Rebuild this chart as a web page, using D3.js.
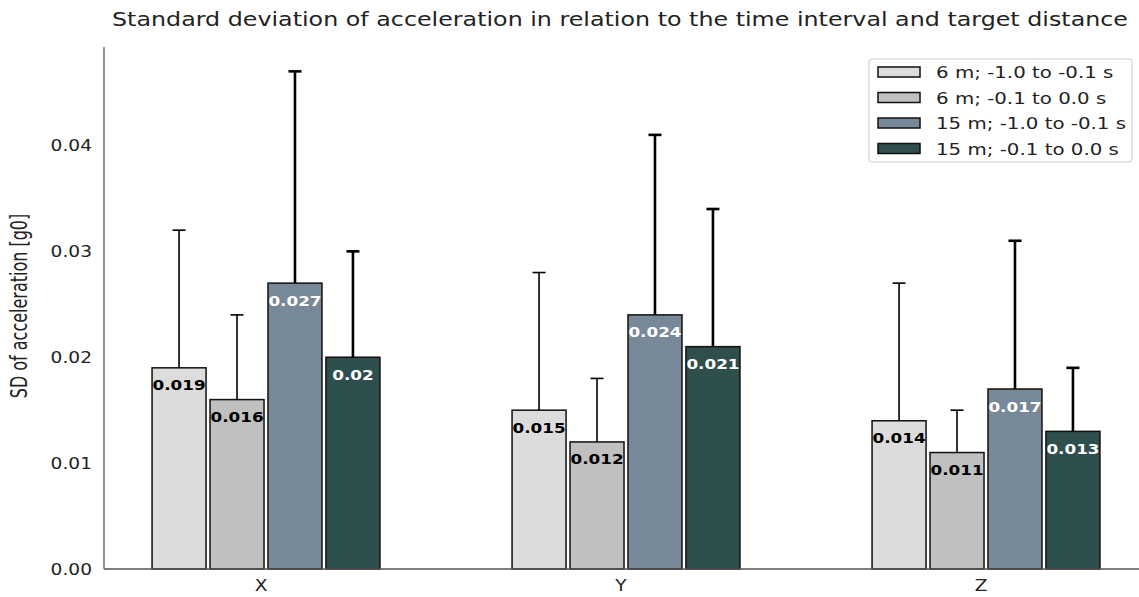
<!DOCTYPE html>
<html>
<head>
<meta charset="utf-8">
<script src="https://cdn.jsdelivr.net/npm/d3@7"></script>
<style>
  html, body { margin: 0; padding: 0; background: #fff; }
  svg { display: block; }
  text { font-family: "DejaVu Sans", sans-serif; }
</style>
</head>
<body>
<svg id="chart" width="1139" height="597"></svg>
<script>
// Axes and groups
const categories = ["X", "Y", "Z"];
const seriesNames = [
  "6 m; -1.0 to -0.1 s",
  "6 m; -0.1 to 0.0 s",
  "15 m; -1.0 to -0.1 s",
  "15 m; -0.1 to 0.0 s"
];
// Mean SD of acceleration per axis [g0]
const sixFar   = [0.019, 0.015, 0.014];
const sixNear  = [0.016, 0.012, 0.011];
const fifteenFar  = [0.027, 0.024, 0.017];
const fifteenNear = [0.020, 0.021, 0.013];
// Upper error (one standard deviation)
const sixFarErr   = [0.013, 0.013, 0.013];
const sixNearErr  = [0.008, 0.006, 0.004];
const fifteenFarErr  = [0.020, 0.017, 0.014];
const fifteenNearErr = [0.010, 0.013, 0.006];
const yTicks = [0.00, 0.01, 0.02, 0.03, 0.04];
const yTickLabels = ["0.00", "0.01", "0.02", "0.03", "0.04"];
const barLabels = [
  ["0.019", "0.015", "0.014"],
  ["0.016", "0.012", "0.011"],
  ["0.027", "0.024", "0.017"],
  ["0.02", "0.021", "0.013"]
];

const values = [sixFar, sixNear, fifteenFar, fifteenNear];
const errors = [sixFarErr, sixNearErr, fifteenFarErr, fifteenNearErr];
const colors = ["#dcdcdc", "#c0c0c0", "#778899", "#2f4f4f"];
const labelColors = ["#000", "#000", "#fff", "#fff"];
const errWidths = [1.6, 1.6, 2.6, 2.6];

const SX = 1.2; // horizontal glyph stretch
const svg = d3.select("#chart");

const plot = { left: 104, right: 1139, top: 47, bottom: 569 };

const y = d3.scaleLinear().domain([0, 0.0493]).range([plot.bottom, plot.top]);
const x = d3.scaleLinear().domain([-0.45, 2.425]).range([plot.left, plot.right]);
const barW = 0.15, barStep = 0.161;

const rows = [];
values.forEach((vals, s) => vals.forEach((v, g) => rows.push({
  s, g, v, e: errors[s][g], label: barLabels[s][g],
  cx: g + (s - 1.5) * barStep
})));

// Bars
svg.append("g").selectAll("rect").data(rows).join("rect")
  .attr("x", d => x(d.cx - barW / 2))
  .attr("width", d => x(d.cx + barW / 2) - x(d.cx - barW / 2))
  .attr("y", d => y(d.v))
  .attr("height", d => y(0) - y(d.v))
  .attr("fill", d => colors[d.s])
  .attr("stroke", "#111")
  .attr("stroke-width", 1.5);

// Error bars (upper half)
const eg = svg.append("g").selectAll("g").data(rows).join("g")
  .attr("stroke", "#000");
eg.append("line")
  .attr("x1", d => x(d.cx)).attr("x2", d => x(d.cx))
  .attr("y1", d => y(d.v)).attr("y2", d => y(d.v + d.e))
  .attr("stroke-width", d => errWidths[d.s]);
eg.append("line")
  .attr("x1", d => x(d.cx) - 6.5).attr("x2", d => x(d.cx) + 6.5)
  .attr("y1", d => y(d.v + d.e)).attr("y2", d => y(d.v + d.e))
  .attr("stroke-width", d => errWidths[d.s]);

// Value labels inside bar tops
svg.append("g").selectAll("text").data(rows).join("text")
  .attr("transform", d => `translate(${x(d.cx)},${y(d.v) + 22.5}) scale(${SX},1)`)
  .attr("text-anchor", "middle")
  .attr("font-weight", "bold")
  .attr("font-size", 14)
  .attr("fill", d => labelColors[d.s])
  .text(d => d.label);

// Spines
svg.append("line")
  .attr("x1", plot.left).attr("x2", plot.left)
  .attr("y1", plot.top).attr("y2", plot.bottom)
  .attr("stroke", "#555").attr("stroke-width", 1.3);
svg.append("line")
  .attr("x1", plot.left).attr("x2", plot.right)
  .attr("y1", plot.bottom).attr("y2", plot.bottom)
  .attr("stroke", "#555").attr("stroke-width", 1.3);

// Y tick labels
svg.append("g").selectAll("text").data(yTicks).join("text")
  .attr("transform", (d) => `translate(${plot.left - 12},${y(d) + 5.5}) scale(${SX},1)`)
  .attr("text-anchor", "end")
  .attr("font-size", 15.5)
  .attr("fill", "#222")
  .text((d, i) => yTickLabels[i]);

// X tick labels
svg.append("g").selectAll("text").data(categories).join("text")
  .attr("transform", (d, i) => `translate(${x(i) - 5},${plot.bottom + 22}) scale(${SX},1)`)
  .attr("text-anchor", "middle")
  .attr("font-size", 15.5)
  .attr("fill", "#222")
  .text(d => d);

// Y axis title
svg.append("text")
  .attr("transform", `translate(27,306) scale(1.4,1) rotate(-90)`)
  .attr("text-anchor", "middle")
  .attr("font-size", 16)
  .attr("fill", "#222")
  .text("SD of acceleration [g0]");

// Chart title
svg.append("text")
  .attr("x", 620).attr("y", 26)
  .attr("text-anchor", "middle")
  .attr("font-size", 19)
  .attr("textLength", 1016)
  .attr("lengthAdjust", "spacingAndGlyphs")
  .attr("fill", "#222")
  .text("Standard deviation of acceleration in relation to the time interval and target distance");

// Legend
const legend = svg.append("g").attr("transform", "translate(869,59)");
legend.append("rect")
  .attr("width", 263).attr("height", 103)
  .attr("rx", 3)
  .attr("fill", "#fff")
  .attr("stroke", "#ccc").attr("stroke-width", 1);
const items = legend.selectAll("g").data(seriesNames).join("g")
  .attr("transform", (d, i) => `translate(0,${13 + i * 25.5})`);
items.append("rect")
  .attr("x", 9).attr("y", -5).attr("width", 42).attr("height", 10)
  .attr("fill", (d, i) => colors[i])
  .attr("stroke", "#111").attr("stroke-width", 1.5);
items.append("text")
  .attr("transform", `translate(67,6) scale(${SX},1)`)
  .attr("font-size", 16.5)
  .attr("fill", "#222")
  .text(d => d);
</script>
</body>
</html>
